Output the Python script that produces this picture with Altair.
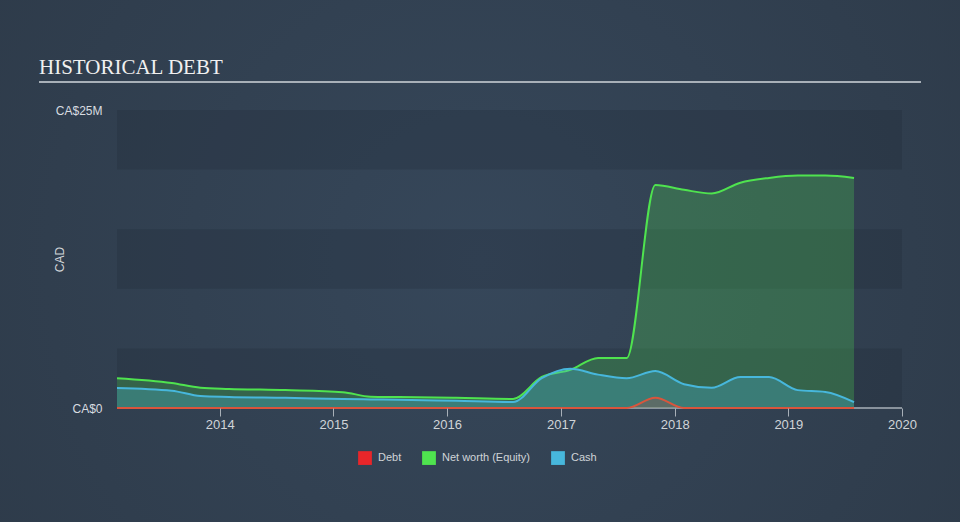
import altair as alt
import pandas as pd

# ---- data (values in millions CAD) ----
dates = ["2013-02-05", "2013-07-31", "2013-10-31", "2014-01-31", "2014-07-31",
         "2015-01-31", "2015-04-30", "2015-07-31", "2016-01-31", "2016-07-31",
         "2016-10-31", "2017-01-31", "2017-04-30", "2017-07-31", "2017-10-31",
         "2018-01-31", "2018-04-30", "2018-07-31", "2018-10-31", "2019-01-31",
         "2019-04-30", "2019-07-31"]
net_worth = [2.5, 2.1, 1.7, 1.6, 1.5, 1.33, 0.95, 0.92, 0.85, 0.76,
             2.6, 3.2, 4.2, 4.2, 18.7, 18.3, 18.0, 18.9, 19.3, 19.5,
             19.5, 19.3]
cash = [1.68, 1.45, 1.0, 0.92, 0.85, 0.75, 0.72, 0.7, 0.6, 0.5,
        2.5, 3.3, 2.8, 2.5, 3.1, 2.0, 1.7, 2.6, 2.6, 1.5,
        1.35, 0.5]
debt = [0, 0, 0, 0, 0, 0, 0, 0, 0, 0,
        0, 0, 0, 0, 0.85, 0, 0, 0, 0, 0,
        0, 0]

series_names = ["Debt", "Net worth (Equity)", "Cash"]
series_colors = ["#e8262a", "#4fe34f", "#47b7dc"]
year_ticks = ["2014-01-01", "2015-01-01", "2016-01-01", "2017-01-01",
              "2018-01-01", "2019-01-01", "2020-01-01"]
x_domain = ["2013-02-05", "2020-01-01"]
y_ticks = [0, 25]
bands_lo = [0, 10, 20]
bands_hi = [5, 15, 25]
title_text = "HISTORICAL DEBT"

rows = []
for d, n, c, b in zip(dates, net_worth, cash, debt):
    rows.append({"date": d, "series": "Net worth (Equity)", "value": n})
    rows.append({"date": d, "series": "Cash", "value": c})
    rows.append({"date": d, "series": "Debt", "value": b})
df = pd.DataFrame(rows)
bands = pd.DataFrame({"lo": bands_lo, "hi": bands_hi})

W, H = 785, 298
FONT = "Liberation Sans"

xscale = alt.Scale(domain=x_domain)
yscale = alt.Scale(domain=[0, 25], nice=False)
color = alt.Color("series:N",
                  scale=alt.Scale(domain=series_names, range=series_colors),
                  legend=alt.Legend(title=None, orient="none", direction="horizontal",
                                    legendX=241, legendY=341,
                                    symbolType="square", symbolSize=190,
                                    symbolStrokeWidth=0, symbolOpacity=1,
                                    labelColor="#d0d4d8", labelFontSize=11,
                                    labelFont=FONT, columnPadding=20,
                                    symbolOffset=0, labelOffset=6))

x_enc = alt.X("date:T", scale=xscale,
              axis=alt.Axis(values=year_ticks, format="%Y", title=None,
                            labelColor="#d0d4d8", labelFontSize=13, labelFont=FONT,
                            tickColor="#a8b0b8", tickSize=8, domain=False,
                            labelPadding=2, grid=False,
                            labelFlush=False, zindex=1))
y_enc = alt.Y("value:Q", scale=yscale,
              axis=alt.Axis(values=y_ticks, title="CAD", grid=False, domain=False,
                            ticks=False, labelPadding=15, labelColor="#d8dce0",
                            labelFontSize=12, labelFont=FONT,
                            labelExpr="datum.value == 0 ? 'CA$0' : 'CA$' + datum.value + 'M'",
                            titleColor="#d0d4d8", titleFontSize=12, titleFont=FONT,
                            titleFontWeight="normal", titleX=-58, titleY=149,
                            titleAngle=-90, titleBaseline="middle", zindex=1))

one = pd.DataFrame({"t": [title_text]})

bg = alt.Chart(one).mark_rect(
    color=alt.Gradient(gradient="radial", x1=0.5, y1=0.5, x2=0.5, y2=0.5, r1=0, r2=0.75,
                       stops=[alt.GradientStop(color="#36475a", offset=0),
                              alt.GradientStop(color="#2c3846", offset=1)])
).encode(x=alt.value(-117), x2=alt.value(843), y=alt.value(-110), y2=alt.value(412))

band_layer = alt.Chart(bands).mark_rect(color="#1a2430", opacity=0.22).encode(
    x=alt.value(0), x2=alt.value(W),
    y=alt.Y("lo:Q", scale=yscale), y2="hi:Q")

underline = alt.Chart(one).mark_rule(
    color="#a8b0b8", strokeWidth=2
).encode(x=alt.value(-78), x2=alt.value(804), y=alt.value(-28))

xdomain_line = alt.Chart(one).mark_rule(
    color="#a8b0b8", strokeWidth=1.5
).encode(x=alt.value(0), x2=alt.value(W), y=alt.value(H))

title = alt.Chart(one).mark_text(
    align="left", baseline="alphabetic", font="Liberation Serif", fontSize=21,
    color="#f0f0f0"
).encode(x=alt.value(-78), y=alt.value(-36), text="t:N")

base = alt.Chart(df)

def layer_for(name, fill_op, line_color=None):
    src = base.transform_filter(alt.datum.series == name)
    area = src.mark_area(interpolate="monotone", fillOpacity=fill_op).encode(
        x=x_enc, y=alt.Y("value:Q", scale=yscale, stack=None), color=color)
    if line_color:
        line = src.mark_line(interpolate="monotone", strokeWidth=2,
                             color=line_color).encode(x=x_enc, y=y_enc)
    else:
        line = src.mark_line(interpolate="monotone", strokeWidth=2).encode(
            x=x_enc, y=y_enc, color=color)
    return [area, line]

layers = [bg, band_layer, underline, title, xdomain_line]
layers += layer_for("Net worth (Equity)", 0.25)
layers += layer_for("Cash", 0.3)
layers += layer_for("Debt", 0.2, "#d9553c")

chart = alt.layer(*layers).properties(
    width=W, height=H,
    autosize=alt.AutoSizeParams(type="none"),
    padding={"left": 117, "top": 110, "right": 58, "bottom": 114},
).configure(background="#2f3c4b").configure_view(stroke=None)

chart.save("out.html", embed_options={"renderer": "svg", "actions": False})
